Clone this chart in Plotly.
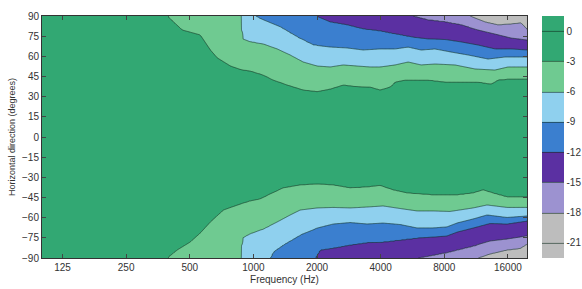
import numpy as np
import plotly.graph_objects as go

# ---- data (contour boundaries: frequency in Hz, angle in degrees) ----
level_values = [-3, -6, -9, -12, -15, -18]
band_colors = ["#bdbdbd", "#9c92d0", "#5b30a2", "#3b7fcf", "#8fd0ee", "#6fca91", "#32a873"]  # -21..-18 ... -3..0

top_m3_hz = [392, 461, 561, 626, 675, 778, 867, 967, 1114, 1241, 1446, 1721, 2004, 2309, 2660, 3097, 3568, 3978, 4435, 4684, 5223, 6708, 8073, 11558, 13313, 14363, 16025, 19700]
top_m3_deg = [90, 79.6, 75.9, 64.7, 58.8, 52.8, 50.2, 49.1, 46.1, 42.4, 38.7, 35.0, 33.8, 35.7, 38.7, 37.5, 37.2, 35.0, 37.2, 40.9, 42.4, 42.4, 40.9, 40.9, 39.4, 42.4, 43.1, 43.1]

top_m6_hz = [867, 886, 967, 1114, 1297, 1494, 1721, 2004, 2309, 2660, 3097, 3568, 3978, 4684, 5396, 6216, 7239, 9000, 11186, 13900, 16025, 19700]
top_m6_deg = [90, 72.9, 70.7, 69.2, 65.5, 61.0, 55.8, 52.8, 52.1, 53.6, 52.8, 52.1, 52.1, 53.6, 55.8, 53.6, 54.3, 53.6, 50.6, 49.8, 52.1, 52.1]

top_m9_hz = [1021, 1114, 1340, 1612, 1919, 2309, 2779, 3306, 3978, 4684, 5396, 6216, 7239, 8616, 10368, 12888, 15500, 19700]
top_m9_deg = [90, 87.0, 81.8, 74.4, 68.4, 66.9, 66.2, 64.7, 65.5, 65.5, 66.9, 64.7, 65.5, 63.2, 61.0, 58.0, 59.5, 59.5]

top_m12_hz = [1983, 2309, 2779, 3306, 3978, 4684, 5575, 6708, 8073, 9606, 11558, 13900, 16550, 19700]
top_m12_deg = [90, 85.5, 83.3, 80.3, 78.8, 76.6, 74.4, 72.9, 72.5, 70.7, 68.4, 65.5, 65.5, 64.7]

top_m15_hz = [5635, 6708, 8073, 9606, 11558, 13900, 16550, 19700]
top_m15_deg = [90, 87.0, 85.5, 83.3, 79.6, 76.6, 73.6, 72.1]

top_m18_hz = [10594, 12475, 14363, 16550, 18450, 19700]
top_m18_deg = [90, 85.5, 83.3, 84.0, 84.8, 80.0]

bot_m3_hz = [392, 437, 503, 561, 626, 721, 839, 967, 1078, 1202, 1384, 1666, 2004, 2385, 2870, 3454, 3978, 4583, 5336, 7081, 9196, 10944, 12204, 13600, 15850, 19700]
bot_m3_deg = [-90, -84.0, -78.1, -71.4, -63.2, -54.3, -50.6, -47.6, -46.1, -42.4, -37.9, -35.7, -35.0, -35.7, -37.9, -37.2, -36.1, -39.4, -41.7, -43.1, -43.1, -41.7, -39.4, -41.7, -44.6, -44.6]

bot_m6_hz = [867, 886, 967, 1114, 1297, 1494, 1666, 2004, 2385, 2870, 3454, 4110, 4945, 5950, 7081, 8521, 10944, 12748, 15850, 19700]
bot_m6_deg = [-90, -75.1, -71.8, -68.4, -63.2, -58.0, -54.3, -52.8, -52.4, -52.8, -52.1, -51.3, -53.2, -55.0, -55.0, -55.4, -52.8, -50.6, -52.4, -52.4]

bot_m9_hz = [1202, 1241, 1384, 1666, 2004, 2385, 2870, 3454, 4110, 4945, 5950, 7081, 8248, 9196, 10944, 12748, 15850, 19700]
bot_m9_deg = [-90, -85.5, -80.3, -72.9, -67.7, -64.7, -63.6, -64.7, -64.0, -65.1, -67.7, -67.7, -66.9, -64.0, -61.0, -58.0, -59.9, -58.8]

bot_m12_hz = [1961, 2071, 2385, 2870, 3454, 4110, 4945, 5950, 7081, 8248, 9196, 10944, 13163, 15850, 19700]
bot_m12_deg = [-90, -84.0, -82.6, -80.3, -78.5, -78.1, -76.6, -75.1, -74.4, -73.6, -70.7, -67.7, -64.3, -64.7, -62.5]

bot_m15_hz = [6016, 7081, 8248, 9196, 10944, 13163, 15850, 19700]
bot_m15_deg = [-90, -87.8, -85.9, -84.0, -81.1, -77.4, -75.9, -73.6]

bot_m18_hz = [11558, 13163, 15850, 18250, 19700]
bot_m18_deg = [-90, -87.0, -84.0, -82.9, -79.6]

x_tick_vals = [125, 250, 500, 1000, 2000, 4000, 8000, 16000]
x_tick_text = ["125", "250", "500", "1000", "2000", "4000", "8000", "16000"]
y_tick_vals = list(range(-90, 91, 15))
cbar_tick_vals = [0, -3, -6, -9, -12, -15, -18, -21]

# ---- build the level field from the boundaries ----
f_grid = np.logspace(2.0, np.log10(19700), 300)
a_grid = np.arange(-90, 90.001, 0.5)

top_pairs = [(top_m3_hz, top_m3_deg), (top_m6_hz, top_m6_deg), (top_m9_hz, top_m9_deg),
             (top_m12_hz, top_m12_deg), (top_m15_hz, top_m15_deg), (top_m18_hz, top_m18_deg)]
bot_pairs = [(bot_m3_hz, bot_m3_deg), (bot_m6_hz, bot_m6_deg), (bot_m9_hz, bot_m9_deg),
             (bot_m12_hz, bot_m12_deg), (bot_m15_hz, bot_m15_deg), (bot_m18_hz, bot_m18_deg)]


def edges(pairs):
    out = []
    for hz, deg in pairs:
        b = np.interp(np.log10(f_grid), np.log10(hz), np.abs(deg))
        b[f_grid < hz[0]] = np.nan
        out.append(b)
    return np.array(out)


top_e = edges(top_pairs)
bot_e = edges(bot_pairs)


def profile(bounds, ang):
    b = bounds.copy()
    for k in range(len(b)):
        if np.isnan(b[k]):
            b[k] = 150 + 20 * k
    b = np.maximum.accumulate(b + np.arange(len(b)) * 1e-4)
    xp = np.concatenate([[0.0], b, [b[-1] + 30]])
    fp = [-1.0] + level_values + [-21.0]
    return np.interp(ang, xp, fp)


z = np.zeros((len(a_grid), len(f_grid)))
pos = a_grid >= 0
neg = ~pos
for j in range(len(f_grid)):
    z[pos, j] = profile(top_e[:, j], a_grid[pos])
    z[neg, j] = profile(bot_e[:, j], -a_grid[neg])
z = np.round(z, 3)

cs = [[0.0, band_colors[0]], [0.125, band_colors[0]], [0.25, band_colors[1]], [0.375, band_colors[2]],
      [0.5, band_colors[3]], [0.625, band_colors[4]], [0.75, band_colors[5]], [0.875, band_colors[6]],
      [1.0, band_colors[6]]]

font_family = "Liberation Sans, Arial, sans-serif"

fig = go.Figure(go.Contour(
    x=f_grid, y=a_grid, z=z,
    autocontour=False,
    contours=dict(start=-21, end=0, size=3, coloring="fill", showlines=True),
    line=dict(color="rgba(15,45,30,0.75)", width=0.8, smoothing=0.6),
    colorscale=cs,
    colorbar=dict(
        x=(542 - 42) / 485, xanchor="left", xpad=0,
        y=0.5, yanchor="middle", ypad=0, len=1, lenmode="fraction",
        thickness=22, outlinewidth=0,
        tickvals=cbar_tick_vals, ticktext=[str(v) for v in cbar_tick_vals],
        ticks="", tickfont=dict(size=10, color="#333", family=font_family),
    ),
    hoverinfo="skip",
))

fig.update_layout(
    width=582, height=289,
    margin=dict(l=42, r=55, t=16, b=31, autoexpand=False),
    paper_bgcolor="white", plot_bgcolor="white",
    font=dict(family=font_family, size=10, color="#333"),
    xaxis=dict(type="log", range=[2.0, np.log10(19700)], tickvals=x_tick_vals, ticktext=x_tick_text,
               ticks="inside", ticklen=4, tickcolor="#444", showgrid=False, zeroline=False,
               showline=True, linecolor="#333", linewidth=1, mirror="ticks",
               tickfont=dict(size=10, color="#333"),
               title=dict(text="Frequency (Hz)", font=dict(size=10, color="#333"), standoff=3),
               automargin=False),
    yaxis=dict(range=[-90, 90], tickvals=y_tick_vals, ticks="inside", ticklen=4, tickcolor="#444",
               showgrid=False, zeroline=False, showline=True, linecolor="#333", linewidth=1, mirror="ticks",
               tickfont=dict(size=10, color="#333"),
               title=dict(text="Horizontal direction (degrees)", font=dict(size=9, color="#333"), standoff=4),
               automargin=False),
)

fig.write_html("out.html")
